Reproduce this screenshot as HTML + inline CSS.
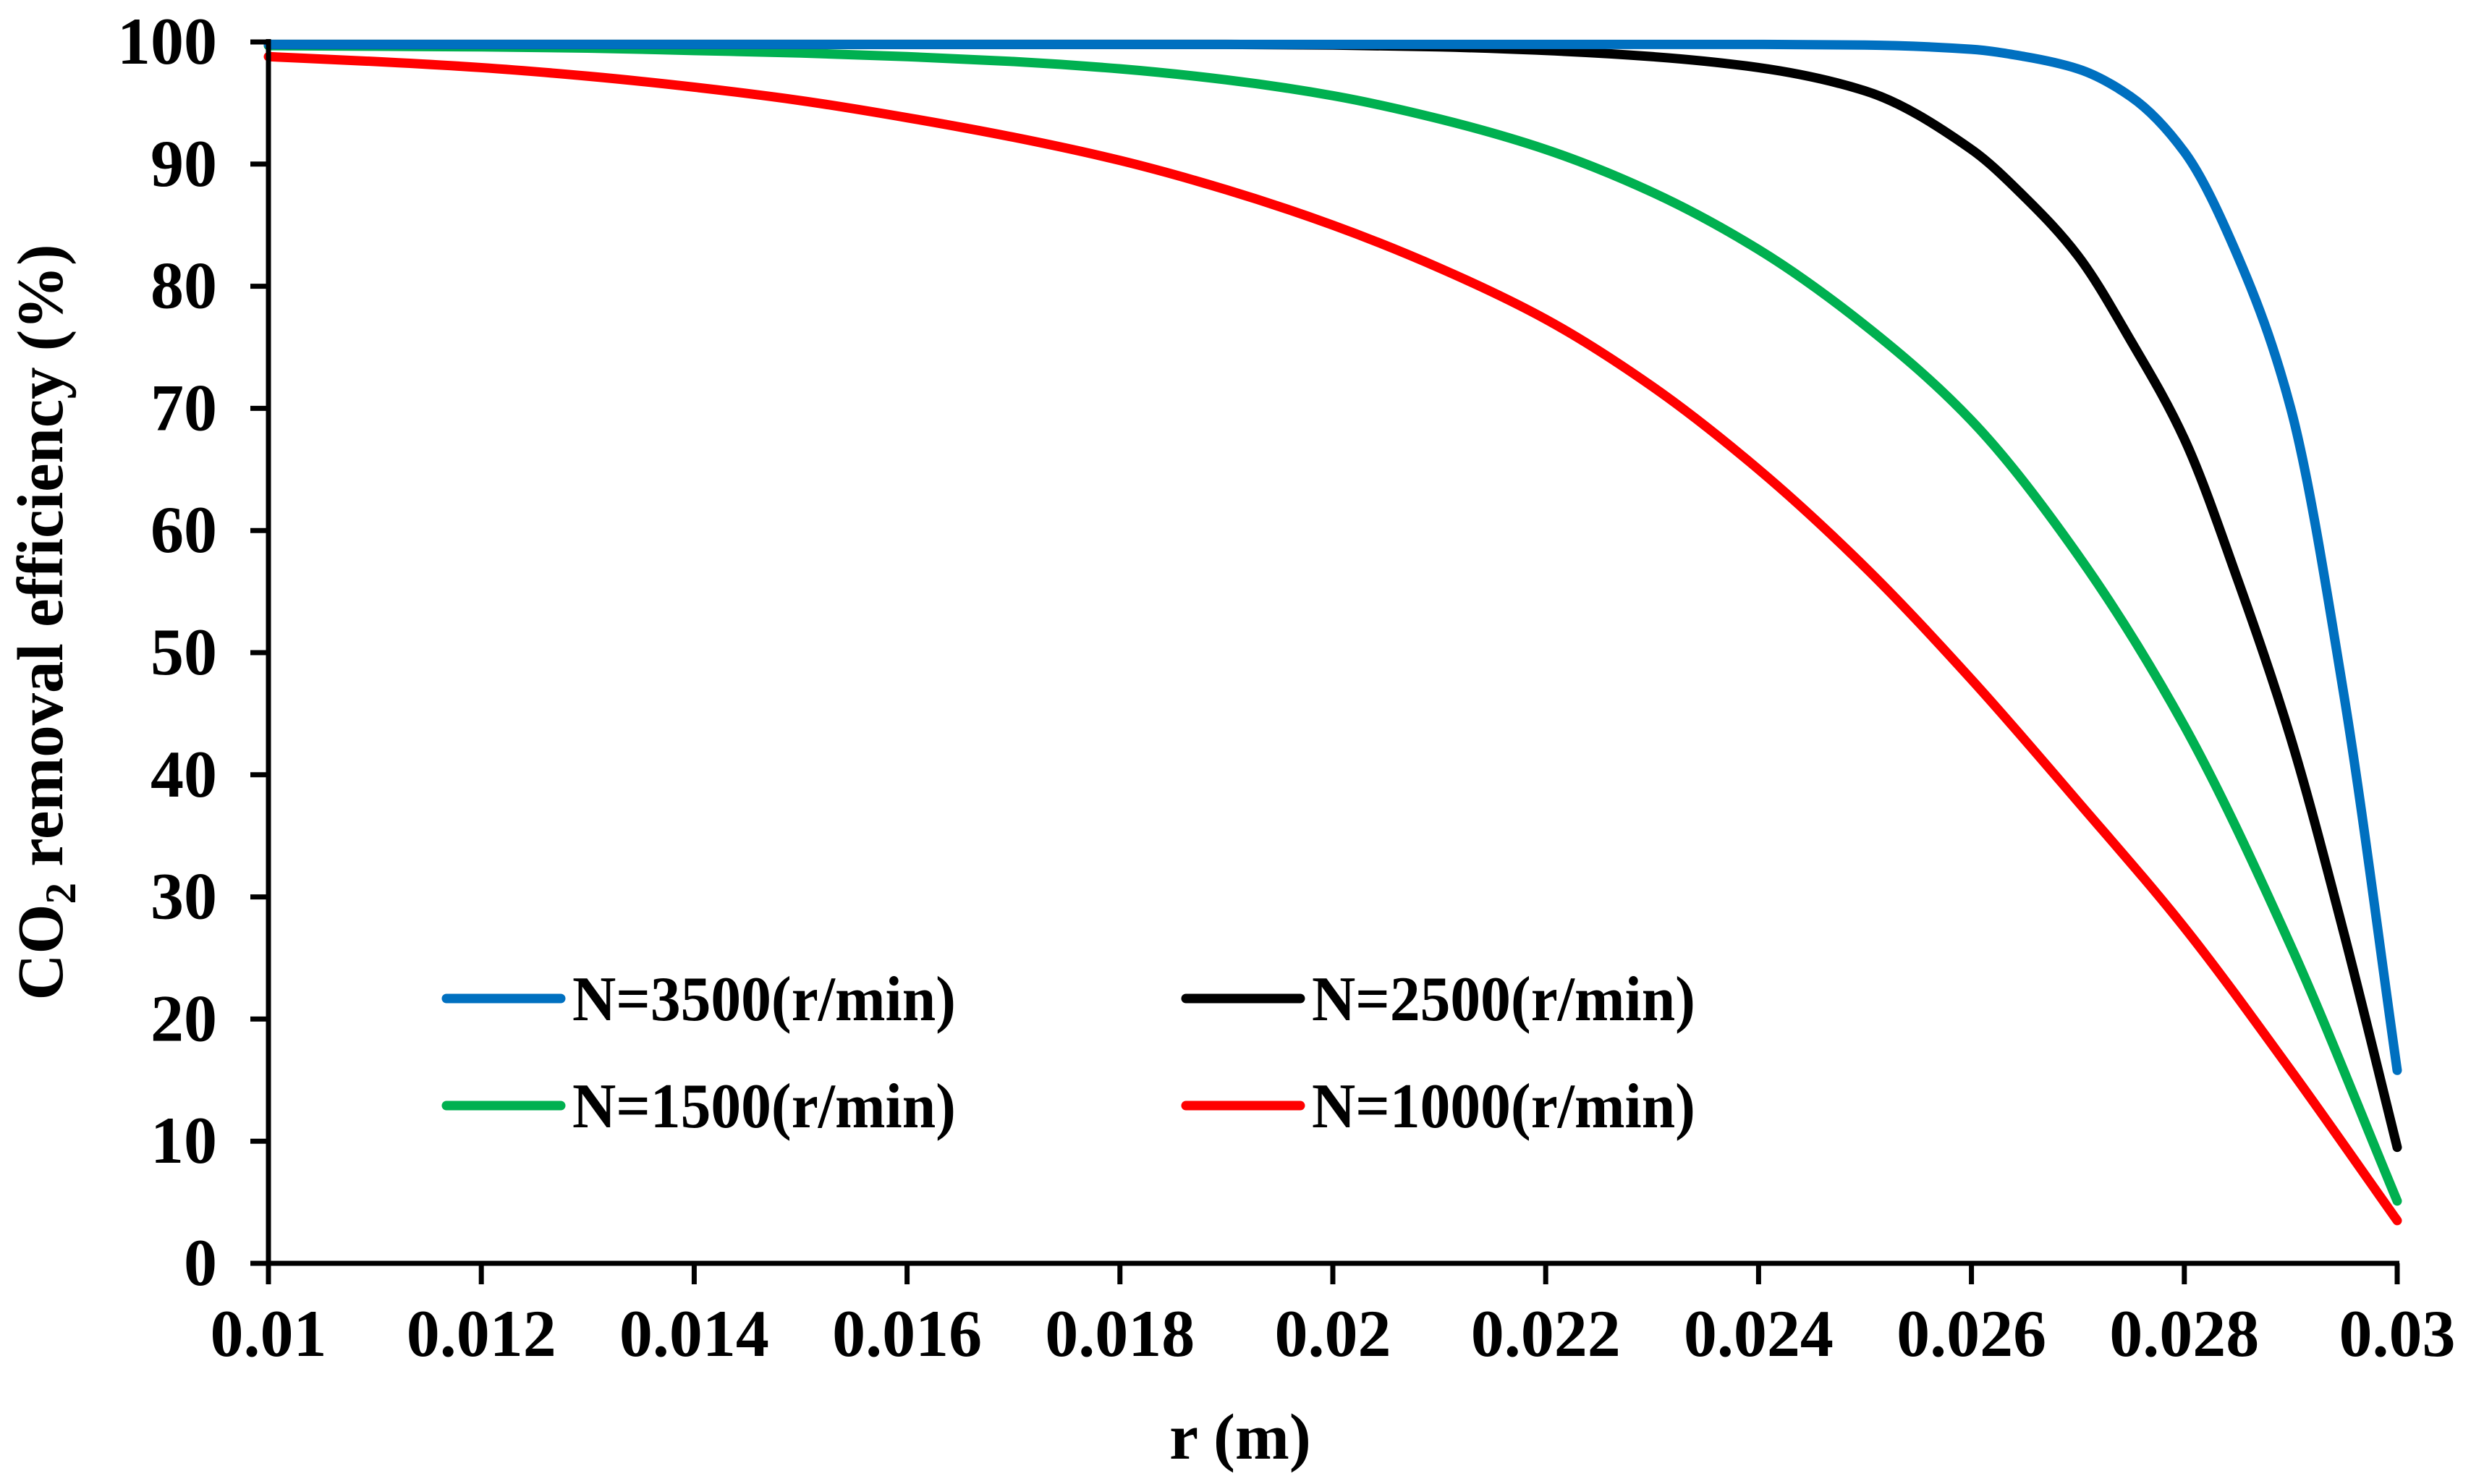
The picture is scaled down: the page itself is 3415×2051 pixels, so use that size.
<!DOCTYPE html>
<html><head><meta charset="utf-8"><style>
html,body{margin:0;padding:0;background:#fff;}
svg{display:block;}
text{font-family:"Liberation Serif","Times New Roman",serif;font-weight:bold;fill:#000;}
</style></head><body>
<svg id="chart" width="3415" height="2051" viewBox="0 0 3415 2051" xmlns="http://www.w3.org/2000/svg">
<g id="plot"></g>
<g id="axes"></g>
<text transform="translate(86,860) rotate(-90)" text-anchor="middle" font-size="90" textLength="1045" lengthAdjust="spacingAndGlyphs">CO<tspan font-size="60" dy="18">2</tspan><tspan dy="-18"> removal efficiency (%)</tspan></text>
<text x="1714" y="2016" text-anchor="middle" font-size="90">r (m)</text>
<g id="legend"></g>
</svg>
<script>
const xsBlue = [0.01,0.015,0.02,0.024,0.025,0.026,0.0265,0.027,0.0275,0.028,0.0285,0.029,0.0295,0.03];
const n3500 = [99.8,99.8,99.8,99.8,99.75,99.4,98.8,97.8,95.5,91,82.5,70,46.5,15.8];
const xsBlack = [0.01,0.015,0.019,0.02,0.021,0.022,0.023,0.024,0.025,0.026,0.0265,0.027,0.0275,0.028,0.0285,0.029,0.0295,0.03];
const n2500 = [99.8,99.8,99.8,99.75,99.6,99.3,98.8,97.9,96.0,91.2,87.3,82.5,75.5,67.5,56,43,27,9.5];
const xsGreen = [0.01,0.011,0.012,0.013,0.014,0.015,0.016,0.017,0.018,0.019,0.02,0.021,0.022,0.023,0.024,0.025,0.026,0.027,0.028,0.029,0.03];
const n1500 = [99.7,99.65,99.6,99.5,99.3,99.1,98.8,98.4,97.8,96.9,95.6,93.7,91.2,87.7,83.0,76.8,69.0,58.0,44.0,26.0,5.1];
const xsRed = [0.01,0.011,0.012,0.013,0.014,0.015,0.016,0.017,0.018,0.019,0.02,0.021,0.022,0.023,0.024,0.025,0.026,0.027,0.028,0.029,0.03];
const n1000 = [98.8,98.4,97.9,97.2,96.3,95.2,93.8,92.2,90.3,87.9,85.0,81.5,77.3,71.8,65.0,57.0,47.8,37.8,27.5,15.8,3.5];
const seriesNames = ["N=3500(r/min)","N=2500(r/min)","N=1500(r/min)","N=1000(r/min)"];
const xTicks = ["0.01","0.012","0.014","0.016","0.018","0.02","0.022","0.024","0.026","0.028","0.03"];
const yTicks = ["0","10","20","30","40","50","60","70","80","90","100"];

const NS="http://www.w3.org/2000/svg";
const X0=371,X1=3313,Y0=1746,Y1=58;
const sx=v=>X0+(v-0.01)/(0.03-0.01)*(X1-X0);
const sy=v=>Y0-(v/100)*(Y0-Y1);
function mk(tag,attrs,parent){const e=document.createElementNS(NS,tag);for(const k in attrs)e.setAttribute(k,attrs[k]);parent.appendChild(e);return e;}
const plot=document.getElementById('plot'),axes=document.getElementById('axes'),legend=document.getElementById('legend');
const colors=["#0070C0","#000000","#00B050","#FF0000"];
const xsets=[xsBlue,xsBlack,xsGreen,xsRed];
const data=[n3500,n2500,n1500,n1000];
const order=[3,2,1,0];
function pathFor(xv,vals){
  const X=xv.map(sx),Y=vals.map(sy),n=X.length;
  const d=[],m=new Array(n);
  for(let i=0;i<n-1;i++)d.push((Y[i+1]-Y[i])/(X[i+1]-X[i]));
  m[0]=d[0];m[n-1]=d[n-2];
  for(let i=1;i<n-1;i++){
    if(d[i-1]*d[i]<=0)m[i]=0;
    else{const h0=X[i]-X[i-1],h1=X[i+1]-X[i];const w1=2*h1+h0,w2=h1+2*h0;m[i]=(w1+w2)/(w1/d[i-1]+w2/d[i]);}
  }
  let p=`M${X[0]},${Y[0]}`;
  for(let i=0;i<n-1;i++){
    const h=(X[i+1]-X[i])/3;
    p+=` C${X[i]+h},${Y[i]+m[i]*h} ${X[i+1]-h},${Y[i+1]-m[i+1]*h} ${X[i+1]},${Y[i+1]}`;
  }
  return p;
}
order.forEach(i=>{
  const el=mk('path',{d:pathFor(xsets[i],data[i]),fill:'none',stroke:colors[i],'stroke-width':13,'stroke-linecap':'round','stroke-linejoin':'round'},plot);
  
  
});
let a=mk('line',{x1:X0,y1:Y1-4,x2:X0,y2:Y0+4,stroke:'#000','stroke-width':7},axes);


a=mk('line',{x1:X0-4,y1:Y0,x2:X1+3,y2:Y0,stroke:'#000','stroke-width':7},axes);


yTicks.forEach(t=>{
  const y=sy(+t);
  const l=mk('line',{x1:X0-25,y1:y,x2:X0,y2:y,stroke:'#000','stroke-width':7},axes);
  
  
  const tx=mk('text',{x:300,y:y+30,'text-anchor':'end','font-size':92},axes);
  tx.textContent=t;
  
  
});
xTicks.forEach(t=>{
  const x=sx(+t);
  const l=mk('line',{x1:x,y1:Y0,x2:x,y2:Y0+29,stroke:'#000','stroke-width':7},axes);
  
  
  const tx=mk('text',{x:x,y:1874,'text-anchor':'middle','font-size':92},axes);
  tx.textContent=t;
  
  
});
const legPos=[[611,1380],[1633,1380],[611,1528],[1633,1528]];
seriesNames.forEach((nm,i)=>{
  const [lx,ly]=legPos[i];
  const g=mk('g',{},legend);
  
  
  mk('line',{x1:lx+6,y1:ly,x2:lx+164,y2:ly,stroke:colors[i],'stroke-width':13,'stroke-linecap':'round'},g);
  const tx=mk('text',{x:lx+180,y:ly+30,'font-size':88,textLength:530,lengthAdjust:'spacingAndGlyphs'},g);
  tx.textContent=nm;
});
</script>
</body></html>
